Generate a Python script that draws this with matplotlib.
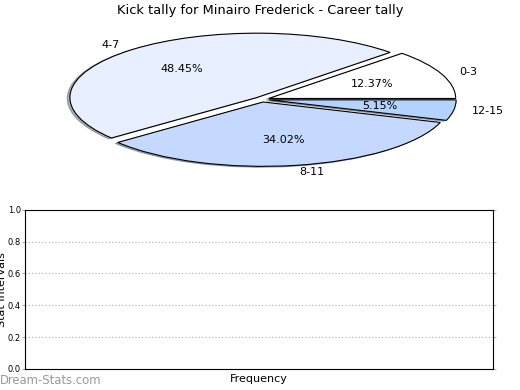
import matplotlib
matplotlib.use('Agg')
import matplotlib.pyplot as plt

# Kick tally data
labels = ['0-3', '4-7', '8-11', '12-15']
counts = [12, 47, 33, 5]
colours = ['#ffffff', '#e8f0ff', '#c5d9ff', '#b5d3ff']
explode = [0.04, 0.04, 0.04, 0.04]

title = 'Kick tally for Minairo Frederick - Career tally'
y_ticks = [0.0, 0.2, 0.4, 0.6, 0.8, 1.0]

fig = plt.figure(figsize=(5.2, 3.9), dpi=100)

# Pie (not equal aspect, old style squashed ellipse)
ax_pie = fig.add_axes([0.144, 0.58, 0.719, 0.33])
wedges, texts, autotexts = ax_pie.pie(
    counts, labels=labels, colors=colours, explode=explode,
    autopct='%1.2f%%', shadow={'ox': -0.01, 'oy': -0.01, 'shade': 0.6},
    startangle=0, labeldistance=1.1, pctdistance=0.6,
    wedgeprops=dict(edgecolor='black', linewidth=0.8),
    textprops=dict(fontsize=8))
ax_pie.set_aspect('auto')
ax_pie.set_xlim(-1.0, 1.0)
ax_pie.set_ylim(-1.0, 1.0)
fig.text(0.5, 0.99, title, ha='center', va='top', fontsize=9.4)

# Empty frequency axes below
ax = fig.add_axes([0.048, 0.054, 0.9, 0.408])
ax.set_ylim(0, 1)
ax.set_xlim(0, 1)
ax.set_yticks(y_ticks)
ax.set_yticklabels(['%.1f' % v for v in y_ticks], fontsize=6)
ax.set_xticks([])
ax.tick_params(axis='y', length=2, color='#aaaaaa', pad=1,
               right=True)
ax.grid(axis='y', linestyle=(0, (1, 2)), color='#b0b0b0', linewidth=0.8)
ax.set_xlabel('Frequency', fontsize=8, labelpad=4)
fig.text(2 / 520, 0.5 * (0.054 + 0.462), 'Stat Intervals', rotation=90,
         ha='center', va='center', fontsize=8)

# Watermark
fig.text(0.0, 0.024, 'Dream-Stats.com', ha='left', va='center',
         fontsize=8.4, color='#999999')

fig.savefig('out.png', dpi=100)
